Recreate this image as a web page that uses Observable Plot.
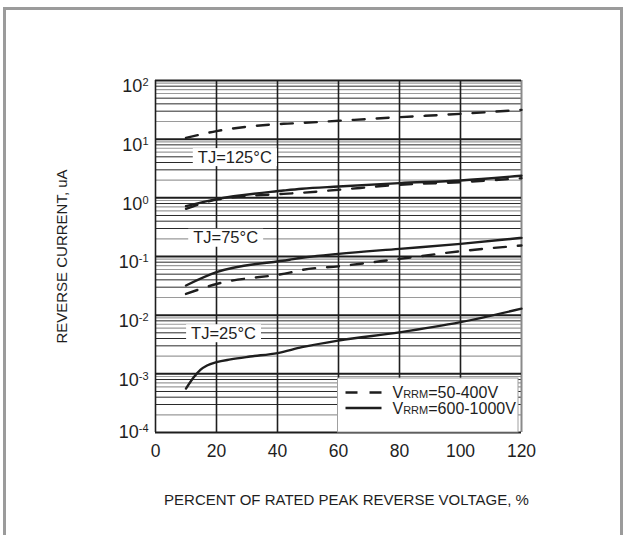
<!DOCTYPE html>
<html><head><meta charset="utf-8">
<script src="https://cdn.jsdelivr.net/npm/d3@7"></script>
<script src="https://cdn.jsdelivr.net/npm/@observablehq/plot@0.6"></script>
<style>
body{margin:0;background:#fff;}
#wrap{position:relative;width:624px;height:535px;overflow:hidden;background:#fff;}
#frame{position:absolute;left:3px;top:7px;width:614px;height:600px;border:3px solid #9b9b9b;border-bottom:none;pointer-events:none;}
</style></head><body><div id="wrap"><div id="chart"></div><div id="frame"></div></div>
<script>
// ---- data ----
const xTicks = [0, 20, 40, 60, 80, 100, 120];
const yDecades = [1e-4, 1e-3, 1e-2, 1e-1, 1e0, 1e1, 1e2];
const minorBlack = [3, 4, 5, 8];
const minorGrey = [2, 6, 7, 9];

// TJ=125°C, VRRM=50-400V (dashed)
const a_x = [10, 20, 42, 48, 60, 80, 100, 120];
const a_y = [10.5, 13.7, 18.3, 18.9, 20.6, 23.7, 27, 31.6];
// TJ=125°C, VRRM=600-1000V (solid)
const b_x = [10, 20, 42, 48, 60, 80, 100, 120];
const b_y = [0.72, 0.95, 1.33, 1.43, 1.56, 1.78, 1.98, 2.38];
// TJ=75°C, VRRM=50-400V (dashed)
const c_x = [10, 20, 42, 48, 60, 80, 100, 120];
const c_y = [0.65, 0.93, 1.17, 1.22, 1.37, 1.67, 1.85, 2.16];
// TJ=75°C, VRRM=600-1000V (solid)
const d_x = [10, 20, 44, 48, 60, 80, 100, 120];
const d_y = [0.032, 0.054, 0.088, 0.095, 0.111, 0.135, 0.164, 0.208];
// TJ=25°C, VRRM=50-400V (dashed)
const e_x = [10, 20, 44, 48, 60, 80, 100, 120];
const e_y = [0.023, 0.034, 0.053, 0.059, 0.068, 0.091, 0.123, 0.154];
// TJ=25°C, VRRM=600-1000V (solid)
const f_x = [10, 12.6, 14.8, 16.9, 20, 24.6, 31, 40, 48, 60, 80, 100, 120];
const f_y = [0.00056, 0.00088, 0.00118, 0.00139, 0.00158, 0.00176, 0.00197, 0.00226, 0.00285, 0.0037, 0.0051, 0.0076, 0.0129];

const tjText = ["TJ=125°C", "TJ=75°C", "TJ=25°C"];
const tjX = [26, 23, 22.3];
const tjY = [4.9, 0.207, 0.00488];

const legendText = [["V", "RRM", "=50-400V"], ["V", "RRM", "=600-1000V"]];
const xLabel = "PERCENT OF RATED PEAK REVERSE VOLTAGE, %";
const yLabel = "REVERSE CURRENT, uA";

// ---- build ----
const toRows = (xs, ys) => xs.map((x, i) => ({x, y: ys[i]}));
const dashedSeries = [toRows(a_x, a_y), toRows(c_x, c_y), toRows(e_x, e_y)];
const solidSeries = [toRows(b_x, b_y), toRows(d_x, d_y), toRows(f_x, f_y)];
const minorOf = ms => yDecades.slice(0, -1).flatMap(d => ms.map(m => d * m));
const tjRows = tjText.map((t, i) => ({t, x: tjX[i], y: tjY[i]}));

const font = "Liberation Sans, Arial, Helvetica, sans-serif";
const ink = "#1e1e1e";

const plot = Plot.plot({
  width: 624, height: 535,
  marginLeft: 155, marginRight: 103, marginTop: 80, marginBottom: 103,
  style: {fontFamily: font, background: "white", color: ink},
  x: {domain: [0, 120]},
  y: {type: "log", domain: [1e-4, 1e2]},
  marks: [
    Plot.ruleY(minorOf(minorGrey), {stroke: "#9a9a9a", strokeWidth: 1.2}),
    Plot.ruleY(minorOf(minorBlack), {stroke: "#2a2a2a", strokeWidth: 1}),
    Plot.ruleX(xTicks.slice(1, -1), {stroke: ink, strokeWidth: 1.6}),
    Plot.ruleX([120], {stroke: "#8a8a8a", strokeWidth: 2}),
    Plot.ruleX([0], {stroke: ink, strokeWidth: 1.6}),
    Plot.ruleY(yDecades, {stroke: ink, strokeWidth: 2}),
    ...dashedSeries.map(s => Plot.line(s, {x: "x", y: "y", curve: "monotone-x", stroke: ink, strokeWidth: 2.4, strokeDasharray: "12,12"})),
    ...solidSeries.map(s => Plot.line(s, {x: "x", y: "y", curve: "monotone-x", stroke: ink, strokeWidth: 2.4})),
    Plot.text(tjRows, {x: "x", y: "y", text: "t", fontSize: 16.5, fill: ink, textAnchor: "middle"}),
    Plot.axisX(xTicks, {tickSize: 0, tickPadding: 12, fontSize: 17.5, label: null, fill: ink}),
    Plot.axisY(yDecades, {tickSize: 0, tickPadding: 7, fontSize: 18, label: null, fill: ink,
      tickFormat: d => "10^" + Math.round(Math.log10(d))}),
    Plot.text([xLabel], {frameAnchor: "bottom", dy: 68, dx: 8, fontSize: 15, fill: ink, textAnchor: "middle", lineAnchor: "middle"}),
    Plot.text([yLabel], {frameAnchor: "left", dx: -93, rotate: -90, fontSize: 15, fill: ink, textAnchor: "middle", lineAnchor: "middle"})
  ]
});
document.getElementById("chart").appendChild(plot);

const svg = d3.select(plot);
// superscript exponents on y tick labels
svg.selectAll('g[aria-label="y-axis tick label"] text').each(function() {
  const txt = this.textContent;
  const exp = txt.split("^")[1];
  const el = d3.select(this);
  el.text(null);
  el.append("tspan").attr("dy", exp === "-4" ? "0" : "6").text("10");
  el.append("tspan").attr("dy", "-6").attr("font-size", "11px").text(exp);
});
// white boxes behind TJ labels
svg.selectAll("text").filter(function() { return this.textContent.startsWith("TJ="); }).each(function() {
  const bb = this.getBBox();
  d3.select(this.parentNode).insert("rect", () => this)
    .attr("transform", this.getAttribute("transform"))
    .attr("x", bb.x - 5).attr("y", bb.y + 0.5)
    .attr("width", bb.width + 10).attr("height", bb.height)
    .attr("fill", "white");
});
// legend
const xs = plot.scale("x"), ys = plot.scale("y");
const lx0 = xs.apply(60) - 0.5, lx1 = xs.apply(120) - 3, ly1 = ys.apply(1e-4), ly0 = ly1 - 54;
const lg = svg.append("g").attr("text-anchor", "start");
lg.append("rect").attr("x", lx0).attr("y", ly0).attr("width", lx1 - lx0).attr("height", ly1 - ly0)
  .attr("fill", "white").attr("stroke", "#a0a0a0").attr("stroke-width", 1);
legendText.forEach((parts, i) => {
  const cy = ly0 + 14.5 + i * 15.5;
  lg.append("line").attr("x1", lx0 + 8).attr("x2", lx0 + 44).attr("y1", cy).attr("y2", cy)
    .attr("stroke", ink).attr("stroke-width", 2.4).attr("stroke-dasharray", i === 0 ? "12,12" : null);
  const t = lg.append("text").attr("x", lx0 + 55).attr("y", cy + 5.5).attr("text-anchor", "start")
    .attr("font-family", font).attr("font-size", 16).attr("fill", ink);
  t.append("tspan").text(parts[0]);
  t.append("tspan").attr("font-size", 11).text(parts[1]);
  t.append("tspan").text(parts[2]);
});
</script>
</body></html>
